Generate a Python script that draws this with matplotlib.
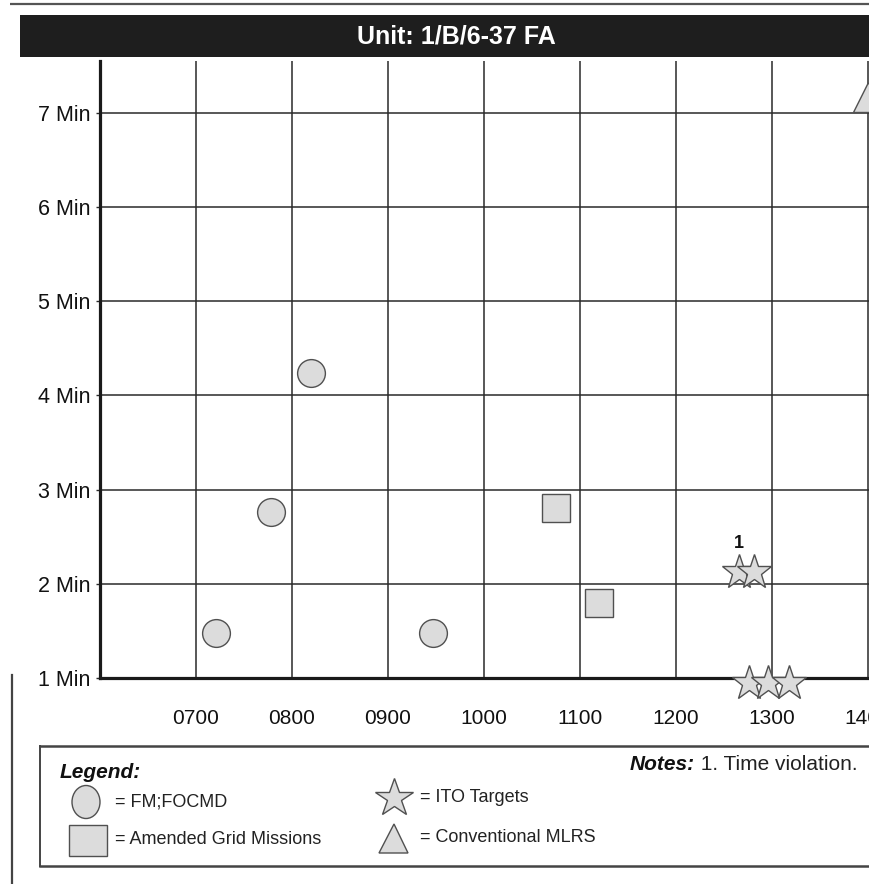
import matplotlib
matplotlib.use("Agg")
import matplotlib.pyplot as plt
from matplotlib.patches import Rectangle, Ellipse, Polygon

plt.rcParams['font.family'] = ['Liberation Sans', 'DejaVu Sans']

# ---------------- data ----------------
title = "Unit: 1/B/6-37 FA"
hours = [7, 8, 9, 10, 11, 12, 13, 14]
hour_labels = ["0700", "0800", "0900", "1000", "1100", "1200", "1300", "1400"]
minutes = [1, 2, 3, 4, 5, 6, 7]
minute_labels = ["1 Min", "2 Min", "3 Min", "4 Min", "5 Min", "6 Min", "7 Min"]

# FM;FOCMD (circles)
fm_time = [7.21, 7.78, 8.20, 9.47]
fm_min = [1.48, 2.76, 4.24, 1.48]
# Amended Grid Missions (squares)
agm_time = [10.75, 11.20]
agm_min = [2.80, 1.80]
# ITO Targets (stars)
ito_time = [12.66, 12.81, 12.76, 12.96, 13.18]
ito_min = [2.13, 2.13, 0.95, 0.95, 0.95]
# Conventional MLRS (triangles)
mlrs_time = [14.0]
mlrs_min = [7.17]
# note marker
note_time = [12.66]
note_min = [2.43]
note_text = ["1"]

legend_title = "Legend:"
legend_items = ["= FM;FOCMD", "= Amended Grid Missions", "= ITO Targets", "= Conventional MLRS"]
notes_bold = "Notes:"
notes_text = " 1. Time violation."

# ---------------- figure ----------------
W, H = 869, 884
fig = plt.figure(figsize=(W / 100, H / 100), dpi=100)

FILL = "#dcdcdc"
EDGE = "#505050"
LINE = "#2a2a2a"

# overlay in pixel coordinates for decorations
ov = fig.add_axes([0, 0, 1, 1], zorder=0)
ov.set_xlim(0, W)
ov.set_ylim(H, 0)
ov.axis("off")

# top border line
ov.plot([10, W], [4, 4], color="#555555", lw=1.6, solid_capstyle="butt")
# title bar
ov.add_patch(Rectangle((20, 15), W - 20, 42, facecolor="#1e1e1e", edgecolor="none"))
ov.text(456, 36, title, color="white", fontsize=18, fontweight="bold",
        ha="center", va="center")
# outer frame line at left (bottom part)
ov.plot([12, 12], [675, H], color="#444444", lw=1.6)
# legend box
ov.plot([40, W], [746, 746], color="#444444", lw=1.8)
ov.plot([40, W], [866, 866], color="#444444", lw=1.8)
ov.plot([40, 40], [746, 866], color="#444444", lw=1.4)

ov.text(60, 772, legend_title, fontsize=15, fontweight="bold", fontstyle="italic",
        ha="left", va="center", color="#111111")
ov.add_patch(Ellipse((86, 802), 28, 33, facecolor=FILL, edgecolor=EDGE, lw=1.0))
ov.add_patch(Rectangle((69, 824.5), 38, 31, facecolor=FILL, edgecolor=EDGE, lw=1.0))
ov.plot([394], [798], marker="*", ms=29, markerfacecolor=FILL, markeredgecolor=EDGE,
        markeredgewidth=1.0, linestyle="none")
ov.add_patch(Polygon([(394, 824), (379, 853), (408, 853)], closed=True,
                     facecolor=FILL, edgecolor=EDGE, lw=1.0))
ov.text(115, 802, legend_items[0], fontsize=13, ha="left", va="center", color="#222222")
ov.text(115, 840, legend_items[1], fontsize=13, ha="left", va="center", color="#222222")
ov.text(420, 798, legend_items[2], fontsize=13, ha="left", va="center", color="#222222")
ov.text(420, 838, legend_items[3], fontsize=13, ha="left", va="center", color="#222222")

t1 = ov.text(630, 765, notes_bold, fontsize=15, fontweight="bold", fontstyle="italic",
             ha="left", va="center", color="#111111")
fig.canvas.draw()
bb = t1.get_window_extent()
x_after = bb.x1  # pixels
ov.text(x_after, 765, notes_text, fontsize=15, ha="left", va="center", color="#222222")

# ---------------- main chart ----------------
px_hour = 96.0
px_min = 94.2
ax_left, ax_bottom_px, ax_top_px = 100, 678, 61
xmin, xmax = 6, 14.5
ymin = 1
ymax = 1 + (ax_bottom_px - ax_top_px) / px_min
ax = fig.add_axes([ax_left / W, (H - ax_bottom_px) / H,
                   (xmax - xmin) * px_hour / W, (ax_bottom_px - ax_top_px) / H], zorder=1)
ax.set_facecolor("none")
ax.set_xlim(xmin, xmax)
ax.set_ylim(ymin, ymax)

ax.set_xticks(hours)
ax.set_xticklabels(hour_labels, fontsize=15, color="#111111")
ax.set_yticks(minutes)
ax.set_yticklabels(minute_labels, fontsize=15.5, color="#111111")
ax.tick_params(axis="x", length=0, pad=22)
ax.tick_params(axis="y", length=3, width=1, pad=4, color=LINE)
ax.grid(True, color=LINE, lw=1.1)
ax.set_axisbelow(True)
for s in ["top", "right"]:
    ax.spines[s].set_visible(False)
for s in ["left", "bottom"]:
    ax.spines[s].set_linewidth(2.3)
    ax.spines[s].set_color("#1a1a1a")

mk = dict(markerfacecolor=FILL, markeredgecolor=EDGE, markeredgewidth=1.0,
          linestyle="none", clip_on=False, zorder=3)
ax.plot(fm_time, fm_min, marker="o", ms=20, **mk)
ax.plot(agm_time, agm_min, marker="s", ms=20, **mk)
for t, m in zip(ito_time, ito_min):
    ax.plot([t], [m], marker="*", ms=26, **mk)
ax.plot(mlrs_time, mlrs_min, marker="^", ms=21, **mk)
for t, m, s in zip(note_time, note_min, note_text):
    ax.text(t, m, s, fontsize=13, fontweight="bold", ha="center", va="center",
            color="#111111", zorder=4)

fig.savefig("out.png", dpi=100)
